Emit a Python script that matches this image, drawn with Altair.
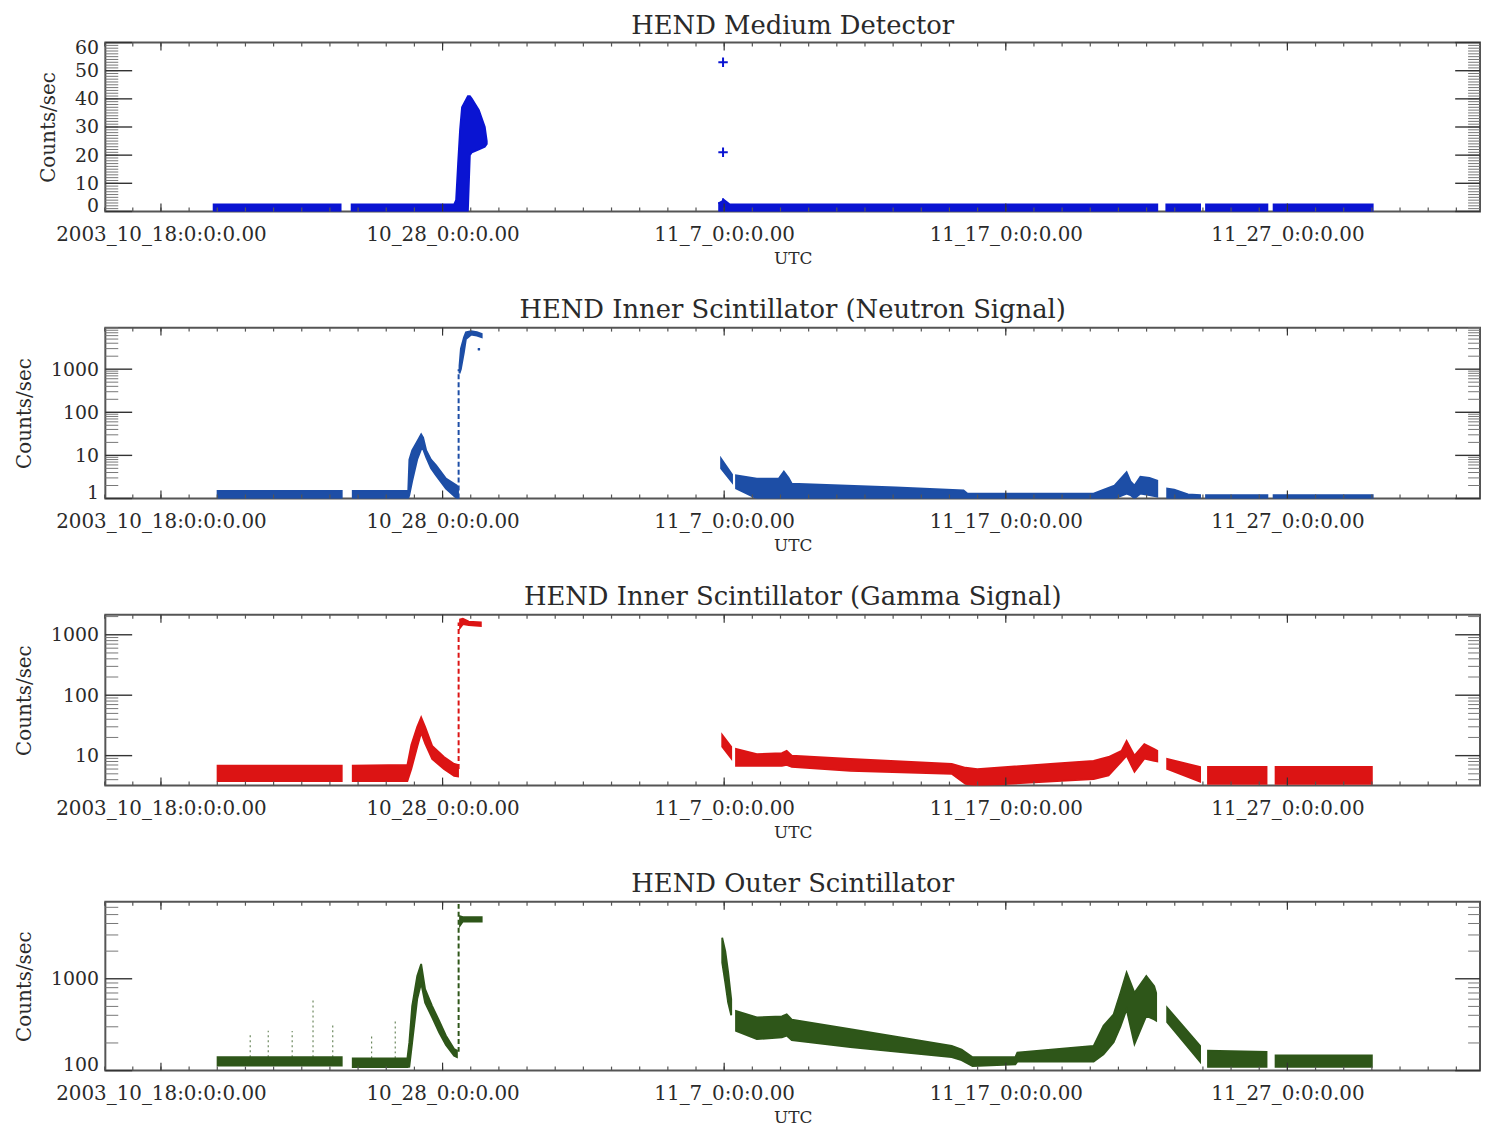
import altair as alt
import pandas as pd

# ---------------- layout constants ----------------
W = 1384
FONT = "DejaVu Serif"
TXT = "#2a2a2a"

# time axis: days counted in October 2003 (Nov 7 = 38), converted to UTC ms
T0_MS = int(pd.Timestamp("2003-09-30T00:00:00", tz="UTC").value // 10**6)


def to_ms(days):
    return [T0_MS + d * 86400000 for d in days]


X_DOMAIN_DAYS = [16.025, 64.84]
tick_days = [18, 28, 38, 48, 58]
tick_labels = ["2003_10_18:0:0:0.00", "10_28_0:0:0.00", "11_7_0:0:0.00",
               "11_17_0:0:0.00", "11_27_0:0:0.00"]
minor_tick_days = list(range(16, 65))

# ---------------- HEND Medium Detector ----------------
md_day = [19.87, 24.38,
          24.77, 28.41, 28.48, 28.55, 28.62, 28.69, 28.90, 28.97, 29.04, 29.29, 29.50, 29.57,
          37.82, 38.00, 38.20, 53.38,
          53.70, 54.90,
          55.11, 57.29,
          57.51, 61.03]
md_lo = [0, 0,
         0, 0, 0, 0, 0, 0, 0, 20, 21, 22, 23, 24,
         0, 0, 0, 0,
         0, 0,
         0, 0,
         0, 0]
md_hi = [2.5, 2.5,
         2.5, 2.5, 4, 17, 29, 37, 41, 41, 40, 36, 30, 25,
         3, 4, 2.5, 2.5,
         2.5, 2.5,
         2.5, 2.5,
         2.5, 2.5]
md_seg = [1] * 2 + [2] * 12 + [3] * 4 + [4] * 2 + [5] * 2 + [6] * 2
md_pt_day = [37.96, 37.96, 37.96]
md_pt_val = [53, 21, 3]

# ---------------- HEND Inner Scintillator (Neutron) ----------------
ni_day = [20.01, 24.42,
          24.81, 26.78, 26.82, 26.92, 27.10, 27.24, 27.31, 27.42, 27.59, 27.77, 28.12, 28.51, 28.55,
          28.60, 28.65, 28.76, 28.83, 29.01, 29.22, 29.39,
          37.89, 38.28,
          38.42, 39.16, 39.94, 40.12, 40.29, 40.40, 44.10, 46.50, 46.64, 51.12, 51.37, 51.86,
          52.29, 52.43, 52.57, 52.78, 53.10, 53.38,
          53.73, 53.98, 54.47, 54.90,
          55.11, 57.29,
          57.51, 61.03]
ni_lo = [1, 1,
         1, 1, 1.2, 2.5, 8, 14, 14, 9, 5, 3.4, 1.7, 1, 1,
         800, 1000, 2500, 5000, 6300, 6000, 5500,
         5, 2.4,
         1.7, 1, 1, 1, 1, 1, 1, 1, 1, 1, 1, 1,
         1.3, 1.2, 1, 1.3, 1.2, 1.1,
         1, 1, 1, 1,
         1, 1,
         1, 1]
ni_hi = [1.5, 1.5,
         1.5, 1.5, 8, 13, 21, 31, 26, 13, 8, 5.9, 2.9, 2, 1.6,
         1200, 3000, 5500, 7200, 7600, 7200, 6600,
         8.4, 3.6,
         3.45, 2.9, 2.9, 4.2, 3.0, 2.2, 1.8, 1.55, 1.3, 1.3, 1.5, 2.0,
         4.1, 2.5, 2.0, 3.2, 3.0, 2.6,
         1.7, 1.6, 1.25, 1.2,
         1.2, 1.2,
         1.2, 1.2]
ni_seg = [1] * 2 + [2] * 13 + [3] * 7 + [4] * 2 + [5] * 18 + [6] * 4 + [7] * 2 + [8] * 2
ni_spike = (28.57, 1, 1000)
ni_pt_day = [29.29]
ni_pt_val = [2900]

# ---------------- HEND Inner Scintillator (Gamma) ----------------
gi_day = [20.01, 24.42,
          24.81, 26.75, 26.89, 27.10, 27.24, 27.38, 27.63, 28.05, 28.41, 28.55,
          28.62, 28.72, 28.93, 29.36,
          37.93, 38.25,
          38.42, 39.16, 40.05, 40.22, 40.40, 42.48, 46.08, 46.57, 46.99, 51.12, 51.65, 52.11,
          52.29, 52.57, 52.92, 53.27, 53.38,
          53.73, 54.90,
          55.18, 57.26,
          57.58, 61.00]
gi_lo = [3.8, 3.8,
         3.8, 3.8, 6, 14, 24, 16, 8.8, 6, 4.6, 4.5,
         1300, 1500, 1450, 1400,
         14, 9,
         6.8, 6.8, 6.8, 7, 6.5, 5.6, 5, 3.4, 3.2, 4.1, 4.7, 8,
         10, 5.4, 8.9, 8.2, 8,
         6, 3.7,
         3.4, 3.4,
         3.4, 3.4]
gi_hi = [6.8, 6.8,
         6.8, 7, 15, 30, 43, 30, 14.5, 9.5, 7.3, 7,
         1800, 1850, 1650, 1600,
         22, 14,
         12.9, 10.6, 11, 12, 10, 8.8, 7.3, 6.3, 6, 8.2, 9.5, 12,
         17.5, 10, 15.5, 12.9, 12,
         8.8, 6.5,
         6.5, 6.5,
         6.5, 6.5]
gi_seg = [1] * 2 + [2] * 10 + [3] * 4 + [4] * 2 + [5] * 17 + [6] * 2 + [7] * 2 + [8] * 2
gi_spike = (28.57, 6, 1600)

# ---------------- HEND Outer Scintillator ----------------
os_day = [20.01, 24.42,
          24.81, 26.75, 26.82, 26.92, 27.10, 27.24, 27.38, 27.63, 27.88, 28.12, 28.41, 28.51,
          28.62, 28.72, 29.39,
          37.93, 38.04, 38.14, 38.25,
          38.42, 39.16, 40.05, 40.22, 40.40, 42.48, 46.08, 46.43, 46.82, 48.34, 48.41, 51.12,
          51.47, 51.83, 52.07, 52.29, 52.57, 52.99, 53.27, 53.34,
          53.73, 54.90,
          55.18, 57.26,
          57.58, 61.00]
os_lo = [113, 113,
         109, 109, 110, 200, 600, 900, 550, 380, 260, 190, 145, 140,
         3800, 4200, 4200,
         1500, 900, 550, 400,
         271, 220, 230, 240, 215, 180, 140, 130, 112, 117, 125, 125,
         150, 204, 300, 465, 194, 393, 360, 350,
         336, 125,
         110, 110,
         110, 110]
os_hi = [140, 140,
         136, 136, 204, 505, 1070, 1450, 770, 505, 348, 240, 172, 165,
         4800, 4700, 4700,
         2800, 2000, 1200, 600,
         446, 380, 390, 410, 360, 282, 186, 170, 140, 140, 157, 186,
         307, 410, 700, 1170, 705, 1070, 830, 700,
         485, 186,
         165, 160,
         146, 146]
os_seg = [1] * 2 + [2] * 12 + [3] * 3 + [4] * 4 + [5] * 20 + [6] * 2 + [7] * 2 + [8] * 2
os_spike = (28.57, 160, 6500)
os_thin_day = [21.17, 21.81, 22.66, 23.40, 24.10, 25.48, 26.32]
os_thin_lo = [140, 140, 140, 140, 140, 136, 136]
os_thin_hi = [262, 271, 270, 597, 320, 240, 348]

# ---------------- helpers ----------------
TICK_MS = to_ms(tick_days)
LABEL_EXPR = "''"
for tm, lab in reversed(list(zip(TICK_MS, tick_labels))):
    LABEL_EXPR = f"time(datum.value) == {tm} ? '{lab}' : {LABEL_EXPR}"

X_SCALE = alt.Scale(type="utc", domain=to_ms(X_DOMAIN_DAYS), nice=False)
X_AXIS = alt.Axis(values=TICK_MS, labelExpr=LABEL_EXPR, title="UTC",
                  labelFontSize=20, titleFontSize=17, labelPadding=13,
                  titlePadding=6, labelOverlap=False, labelFlush=False,
                  labelLimit=400)


def y_axis(vals):
    return alt.Axis(values=vals, format="d", title="Counts/sec",
                    labelFontSize=19, titleFontSize=20, labelPadding=7,
                    titlePadding=16, labelOverlap=False, labelFlush=True,
                    labelFlushOffset=4)


def x_ticks(days, length, h, color="#333"):
    df = pd.DataFrame({"t": to_ms(days)})
    base = alt.Chart(df).mark_rule(color=color, strokeWidth=1.2)
    top = base.encode(x=alt.X("t:T", scale=X_SCALE, axis=X_AXIS),
                      y=alt.value(0), y2=alt.value(length))
    bot = base.encode(x=alt.X("t:T", scale=X_SCALE, axis=X_AXIS),
                      y=alt.value(h), y2=alt.value(h - length))
    return [top, bot]


def y_ticks(vals, yscale, yaxis, length, side, color, width=1.0):
    df = pd.DataFrame({"v": vals})
    if side == "left":
        xe = dict(x=alt.value(0), x2=alt.value(length))
    else:
        xe = dict(x=alt.value(W), x2=alt.value(W - length))
    return alt.Chart(df).mark_rule(color=color, strokeWidth=width).encode(
        y=alt.Y("v:Q", scale=yscale, axis=yaxis), **xe)


def make_panel(title, day, lo, hi, seg, color, ydom, ytype, ylab, ymajor, yminor,
               spike=None, points=None, thin=None, title_offset=4, h=172):
    yscale = alt.Scale(type=ytype, domain=ydom, nice=False)
    yaxis = y_axis(ylab)
    df = pd.DataFrame({"t": to_ms(day), "lo": lo, "hi": hi, "seg": seg})
    area = alt.Chart(df).mark_area(
        color=color, stroke=color, strokeWidth=1.8, interpolate="linear",
        clip=True, opacity=1).encode(
        x=alt.X("t:T", scale=X_SCALE, axis=X_AXIS),
        y=alt.Y("lo:Q", scale=yscale, axis=yaxis),
        y2="hi:Q",
        detail="seg:N",
    )
    layers = [area]
    if thin is not None:
        tdf = pd.DataFrame({"t": to_ms(thin[0]), "lo": thin[1], "hi": thin[2]})
        layers.append(alt.Chart(tdf).mark_rule(
            color=color, strokeWidth=1.2, strokeDash=[2, 3], opacity=0.7).encode(
            x=alt.X("t:T", scale=X_SCALE, axis=X_AXIS),
            y=alt.Y("lo:Q", scale=yscale, axis=yaxis), y2="hi:Q"))
    if spike is not None:
        sdf = pd.DataFrame({"t": to_ms([spike[0]]), "lo": [spike[1]], "hi": [spike[2]]})
        layers.append(alt.Chart(sdf).mark_rule(
            color=color, strokeWidth=2, strokeDash=[5, 3]).encode(
            x=alt.X("t:T", scale=X_SCALE, axis=X_AXIS),
            y=alt.Y("lo:Q", scale=yscale, axis=yaxis), y2="hi:Q"))
    if points is not None:
        pdf = pd.DataFrame({"t": to_ms(points[0]), "lo": points[1]})
        layers.append(alt.Chart(pdf).mark_point(
            shape="M-1,0L1,0M0,-1L0,1", size=points[2], strokeWidth=2,
            color=color, filled=False, opacity=1).encode(
            x=alt.X("t:T", scale=X_SCALE, axis=X_AXIS),
            y=alt.Y("lo:Q", scale=yscale, axis=yaxis)))
    layers += x_ticks(minor_tick_days, 4, h, "#555")
    layers += x_ticks(tick_days, 8, h, "#333")
    layers.append(y_ticks(yminor, yscale, yaxis, 13, "left", "#777"))
    layers.append(y_ticks(yminor, yscale, yaxis, 12, "right", "#777"))
    layers.append(y_ticks(ymajor, yscale, yaxis, 27, "left", "#333", 1.4))
    layers.append(y_ticks(ymajor, yscale, yaxis, 25, "right", "#333", 1.4))
    return alt.layer(*layers).properties(
        width=W, height=h,
        title=alt.Title(title, offset=title_offset))


p1 = make_panel("HEND Medium Detector", md_day, md_lo, md_hi, md_seg, "#0a14d2",
                [0, 60], "linear", [0, 10, 20, 30, 40, 50, 60],
                [0, 10, 20, 30, 40, 50, 60], list(range(0, 61)),
                points=(md_pt_day, md_pt_val, 90), title_offset=0, h=170)

ni_minor = [m * 10 ** e for e in range(0, 4) for m in range(2, 10)]
p2 = make_panel("HEND Inner Scintillator (Neutron Signal)", ni_day, ni_lo, ni_hi, ni_seg,
                "#1d4ea6", [1, 9200], "log", [1, 10, 100, 1000], [1, 10, 100, 1000],
                ni_minor, spike=ni_spike, points=(ni_pt_day, ni_pt_val, 6), h=172)

gi_minor = [4, 5, 6, 7, 8, 9] + [m * 10 ** e for e in range(1, 3) for m in range(2, 10)] + [2000]
p3 = make_panel("HEND Inner Scintillator (Gamma Signal)", gi_day, gi_lo, gi_hi, gi_seg,
                "#dc1414", [3.2, 2150], "log", [10, 100, 1000], [10, 100, 1000],
                gi_minor, spike=gi_spike, h=172)

os_minor = [m * 100 for m in range(2, 10)] + [2000, 3000, 4000, 5000, 6000]
p4 = make_panel("HEND Outer Scintillator", os_day, os_lo, os_hi, os_seg,
                "#2e5619", [100, 6900], "log", [100, 1000], [100, 1000],
                os_minor, spike=os_spike, thin=(os_thin_day, os_thin_lo, os_thin_hi), h=170)

chart = alt.vconcat(p1, p2, p3, p4, spacing=29).properties(
    padding={"left": 5, "top": 0, "right": 0, "bottom": 0}
).configure_view(
    stroke="#555", strokeWidth=2
).configure_axis(
    labelFont=FONT, titleFont=FONT, labelColor=TXT, titleColor=TXT,
    labelFontWeight="normal", titleFontWeight="normal",
    domain=False, ticks=False, tickSize=0, grid=False
).configure_title(
    font=FONT, fontSize=26, fontWeight="normal", color=TXT, anchor="middle"
)

chart.save("out.html", embed_options={"renderer": "svg", "actions": False})
